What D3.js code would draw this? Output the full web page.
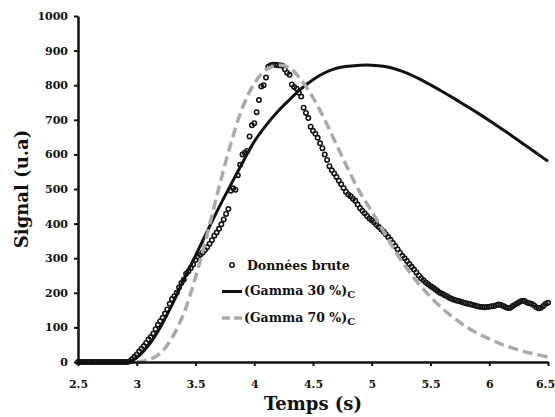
<!DOCTYPE html>
<html>
<head>
<meta charset="utf-8">
<script src="https://cdn.jsdelivr.net/npm/d3@7"></script>
<style>
  html, body { margin: 0; padding: 0; background: #fff; }
  svg { display: block; }
  text { font-family: 'DejaVu Serif', 'Liberation Serif', serif; font-weight: bold; fill: #111; }
</style>
</head>
<body>
<svg id="chart" width="555" height="417"></svg>
<script>
// ---------- data ----------
const xTicks = [2.5, 3, 3.5, 4, 4.5, 5, 5.5, 6, 6.5];
const yTicks = [0, 100, 200, 300, 400, 500, 600, 700, 800, 900, 1000];

const rawTimes = [
  2.50,2.52,2.54,2.56,2.58,2.60,2.62,2.64,2.66,2.68,
  2.70,2.72,2.74,2.76,2.78,2.80,2.82,2.84,2.86,2.88,
  2.90,2.92,2.94,2.96,2.98,3.00,3.02,3.04,3.06,3.08,
  3.10,3.12,3.14,3.16,3.18,3.20,3.22,3.24,3.26,3.28,
  3.30,3.32,3.34,3.36,3.38,3.40,3.42,3.44,3.46,3.48,
  3.50,3.52,3.54,3.56,3.58,3.60,3.62,3.64,3.66,3.68,
  3.70,3.72,3.74,3.76,3.78,3.80,3.82,3.84,3.86,3.88,
  3.90,3.92,3.94,3.96,3.98,4.00,4.02,4.04,4.06,4.08,
  4.10,4.12,4.14,4.16,4.18,4.20,4.22,4.24,4.26,4.28,
  4.30,4.32,4.34,4.36,4.38,4.40,4.42,4.44,4.46,4.48,
  4.50,4.52,4.54,4.56,4.58,4.60,4.62,4.64,4.66,4.68,
  4.70,4.72,4.74,4.76,4.78,4.80,4.82,4.84,4.86,4.88,
  4.90,4.92,4.94,4.96,4.98,5.00,5.02,5.04,5.06,5.08,
  5.10,5.12,5.14,5.16,5.18,5.20,5.22,5.24,5.26,5.28,
  5.30,5.32,5.34,5.36,5.38,5.40,5.42,5.44,5.46,5.48,
  5.50,5.52,5.54,5.56,5.58,5.60,5.62,5.64,5.66,5.68,
  5.70,5.72,5.74,5.76,5.78,5.80,5.82,5.84,5.86,5.88,
  5.90,5.92,5.94,5.96,5.98,6.00,6.02,6.04,6.06,6.08,
  6.10,6.12,6.14,6.16,6.18,6.20,6.22,6.24,6.26,6.28,
  6.30,6.32,6.34,6.36,6.38,6.40,6.42,6.44,6.46,6.48,
  6.50
];
const rawSignal = [
  0,0,0,0,0,0,0,0,0,0,
  0,0,0,0,0,0,0,0,0,0,
  0,0,2,8,15,22,30,38,46,55,
  65,72,82,95,108,118,128,140,152,168,
  182,190,200,215,228,238,255,262,272,282,
  295,304,310,316,324,332,342,352,365,374,
  385,398,412,428,442,495,502,498,540,570,
  600,605,610,652,684,690,722,757,796,800,
  822,853,858,859,859,858,858,856,846,836,
  830,802,795,790,778,767,735,720,705,680,
  668,660,648,632,618,600,584,566,554,545,
  535,524,514,503,492,484,479,472,466,455,
  445,437,430,422,415,410,404,397,390,384,
  377,369,361,353,344,335,326,316,307,300,
  292,283,275,267,259,250,242,236,230,225,
  220,215,210,205,200,197,193,190,186,183,
  180,178,176,174,172,170,168,167,165,163,
  161,160,159,158,159,160,161,162,164,166,
  165,162,158,156,157,162,166,170,174,177,
  176,172,170,168,164,158,155,157,162,168,
  171
];

const gamma30Times = [2.94,3.0,3.1,3.2,3.3,3.4,3.5,3.6,3.7,3.8,3.9,4.0,4.1,4.2,4.3,4.4,4.5,4.6,4.7,4.8,4.9,5.0,5.1,5.2,5.3,5.4,5.5,5.6,5.7,5.8,5.9,6.0,6.1,6.2,6.3,6.4,6.5];
const gamma30Values = [0,12,48,100,165,238,307,378,447,512,576,637,684,724,758,790,816,836,849,855,858,858,855,847,835,819,801,782,762,741,720,698,675,652,628,604,580];

const gamma70Times = [3.0,3.1,3.2,3.3,3.4,3.5,3.6,3.7,3.8,3.9,4.0,4.1,4.2,4.3,4.4,4.5,4.6,4.7,4.8,4.9,5.0,5.1,5.2,5.3,5.4,5.5,5.6,5.7,5.8,5.9,6.0,6.1,6.2,6.3,6.4,6.5];
const gamma70Values = [0,6,25,70,140,245,370,505,630,735,805,845,858,850,815,764,700,628,556,490,435,378,320,270,226,188,155,127,103,83,67,52,40,30,22,15];

const legendLabels = ["Données brute", "(Gamma 30 %)", "(Gamma 70 %)"];
const legendSub = "C";
const xTitle = "Temps (s)";
const yTitle = "Signal (u.a)";

// ---------- chart ----------
const svg = d3.select("#chart");
svg.append("rect").attr("width", 555).attr("height", 417).attr("fill", "#fff");

const x = d3.scaleLinear().domain([2.5, 6.5]).range([78, 548]);
const y = d3.scaleLinear().domain([0, 1000]).range([362, 16]);

const raw = rawTimes.map((t, i) => ({ t, v: rawSignal[i] }));
const g30 = gamma30Times.map((t, i) => ({ t, v: gamma30Values[i] }));
const g70 = gamma70Times.map((t, i) => ({ t, v: gamma70Values[i] }));

// markers
svg.append("g").selectAll("circle").data(raw).join("circle")
  .attr("cx", d => x(d.t)).attr("cy", d => y(d.v)).attr("r", 2.2)
  .attr("fill", "none").attr("stroke", "#151515").attr("stroke-width", 1.6);

const line = d3.line().x(d => x(d.t)).y(d => y(d.v)).curve(d3.curveCatmullRom.alpha(0.5));

svg.append("path").datum(g30).attr("d", line)
  .attr("fill", "none").attr("stroke", "#111").attr("stroke-width", 3);

svg.append("path").datum(g70).attr("d", line)
  .attr("fill", "none").attr("stroke", "#aaaaaa").attr("stroke-width", 3.5)
  .attr("stroke-dasharray", "10,5");

// axes
const yAxis = d3.axisLeft(y).tickValues(yTicks).tickSize(4).tickSizeOuter(0).tickPadding(6).tickFormat(d => d);
const xAxis = d3.axisBottom(x).tickValues(xTicks).tickSize(4).tickSizeOuter(0).tickPadding(14).tickFormat(d => d);

const gy = svg.append("g").attr("transform", "translate(78,0)").call(yAxis);
const gx = svg.append("g").attr("transform", "translate(0,362)").call(xAxis);
[gx, gy].forEach(g => {
  g.select(".domain").attr("stroke", "#111").attr("stroke-width", 2.5);
  g.selectAll(".tick line").attr("stroke", "#111").attr("stroke-width", 2);
  g.selectAll(".tick text").attr("fill", "#111")
    .style("font-family", "'DejaVu Serif', serif").style("font-weight", "bold").style("font-size", "11px");
});
// keep the last x label inside the frame
gx.selectAll(".tick").filter(d => d === 6.5).select("text").attr("dx", -3);

// titles
svg.append("text").attr("x", 313).attr("y", 410).attr("text-anchor", "middle")
  .style("font-size", "18px").text(xTitle);
svg.append("text").attr("transform", "translate(28,189) rotate(-90)").attr("text-anchor", "middle")
  .style("font-size", "18px").text(yTitle);

// legend
const lg = svg.append("g");
lg.append("circle").attr("cx", 232).attr("cy", 265).attr("r", 2.2)
  .attr("fill", "none").attr("stroke", "#151515").attr("stroke-width", 1.6);
lg.append("line").attr("x1", 222).attr("x2", 242).attr("y1", 291.5).attr("y2", 291.5)
  .attr("stroke", "#111").attr("stroke-width", 3);
lg.append("line").attr("x1", 222).attr("x2", 242).attr("y1", 318).attr("y2", 318)
  .attr("stroke", "#aaaaaa").attr("stroke-width", 3.5).attr("stroke-dasharray", "8,4");

lg.append("text").attr("x", 247).attr("y", 270).style("font-size", "12.5px").text(legendLabels[0]);
[1, 2].forEach((k, i) => {
  const t = lg.append("text").attr("x", 244).attr("y", 295 + i * 26.5).style("font-size", "12.5px");
  t.append("tspan").text(legendLabels[k]);
  t.append("tspan").attr("dy", 3).style("font-size", "10px").text(legendSub);
});
</script>
</body>
</html>
